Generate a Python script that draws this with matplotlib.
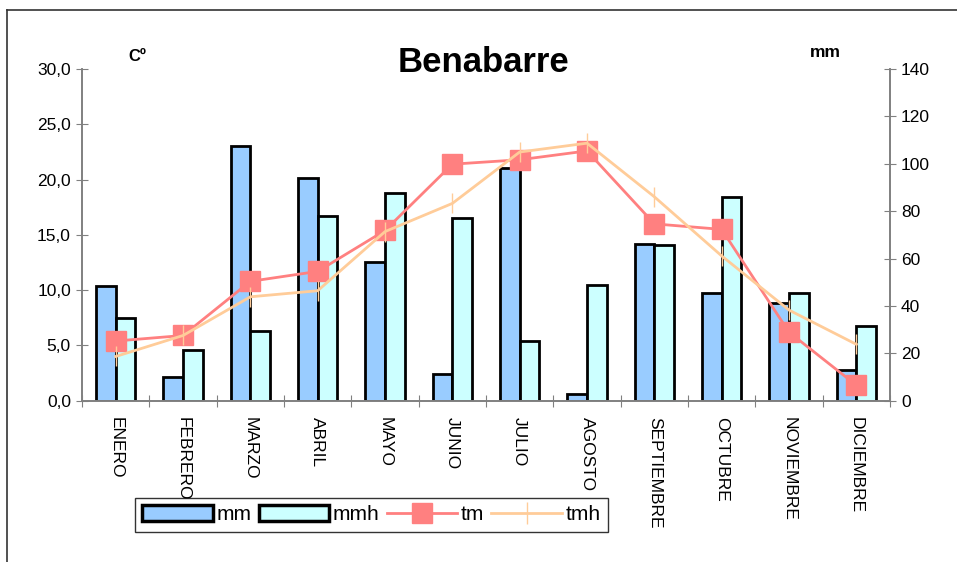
import matplotlib
matplotlib.use("Agg")
import matplotlib.pyplot as plt
import numpy as np
from matplotlib.lines import Line2D
from matplotlib.patches import Patch

plt.rcParams['font.family'] = ['Liberation Sans', 'DejaVu Sans']

meses = ['ENERO', 'FEBRERO', 'MARZO', 'ABRIL', 'MAYO', 'JUNIO', 'JULIO',
         'AGOSTO', 'SEPTIEMBRE', 'OCTUBRE', 'NOVIEMBRE', 'DICIEMBRE']
mm = [48.5, 10.1, 107.4, 93.9, 58.7, 11.1, 98.4, 3.0, 66.1, 45.3, 41.1, 12.8]
mmh = [35.0, 21.4, 29.4, 78.0, 87.5, 77.2, 25.2, 49.0, 65.6, 86.1, 45.3, 31.7]
tm = [5.4, 5.9, 10.8, 11.7, 15.4, 21.4, 21.8, 22.6, 16.0, 15.5, 6.2, 1.4]
tmh = [4.0, 5.9, 9.4, 9.95, 15.3, 17.85, 22.5, 23.3, 18.45, 13.1, 8.2, 5.1]
yt_c = [0, 5, 10, 15, 20, 25, 30]
yt_mm = [0, 20, 40, 60, 80, 100, 120, 140]

fig = plt.figure(figsize=(9.57, 5.62), dpi=100)
ax = fig.add_axes([0.0857, 0.287, 0.8443, 0.590])
axr = ax.twinx()
ax.set_zorder(axr.get_zorder() + 1)
ax.patch.set_visible(False)

x = np.arange(len(meses))
w = 0.29
axr.bar(x - w / 2, mm, w, color='#99CCFF', edgecolor='black', linewidth=2, label='mm')
axr.bar(x + w / 2, mmh, w, color='#CCFFFF', edgecolor='black', linewidth=2, label='mmh')

ax.plot(x, tm, color='#FF8080', lw=2, marker='s', ms=14.5, mec='#FF8080', label='tm', zorder=3)
ax.plot(x, tmh, color='#FFCC99', lw=2, marker='|', ms=14, mew=1, label='tmh', zorder=4)

ax.set_xlim(-0.5, 11.5)
ax.set_ylim(0, 30)
axr.set_ylim(0, 140)

ax.set_yticks(yt_c)
ax.set_yticklabels([('%.1f' % v).replace('.', ',') for v in yt_c], fontsize=12.5)
axr.set_yticks(yt_mm)
axr.set_yticklabels([str(v) for v in yt_mm], fontsize=12.5)

ax.set_xticks(np.arange(-0.5, 12, 1))
ax.set_xticklabels([])
ax.set_xticks(x, minor=True)
ax.set_xticklabels(meses, minor=True, rotation=270, fontsize=12.5, va='top', ha='center')
ax.tick_params(axis='x', which='minor', length=0, pad=12)
ax.tick_params(axis='x', which='major', direction='inout', length=8, color='#808080')
ax.tick_params(axis='y', direction='inout', length=8, color='#808080', pad=4)
axr.tick_params(axis='y', direction='inout', length=8, color='#808080', pad=4)

for a in (ax, axr):
    a.spines['top'].set_visible(False)
    for s in ('left', 'right', 'bottom'):
        a.spines[s].set_color('#808080')
        a.spines[s].set_linewidth(1.2)

fig.text(0.505, 0.888, 'Benabarre', fontsize=25, fontweight='bold', ha='center', va='center')
fig.text(0.144, 0.900, 'Cº', fontsize=12, fontweight='bold', ha='center', va='center')
fig.text(0.862, 0.906, 'mm', fontsize=12.5, fontweight='bold', ha='center', va='center')

handles = [Patch(facecolor='#99CCFF', edgecolor='black', linewidth=2.5),
           Patch(facecolor='#CCFFFF', edgecolor='black', linewidth=2.5),
           Line2D([], [], color='#FF8080', lw=2, marker='s', ms=14),
           Line2D([], [], color='#FFCC99', lw=2, marker='|', ms=16, mew=1)]
leg = fig.legend(handles, ['mm', 'mmh', 'tm', 'tmh'], loc='center', bbox_to_anchor=(0.388, 0.084),
                 ncol=4, fontsize=15, frameon=True, fancybox=False, handlelength=3.4,
                 handleheight=0.8, columnspacing=0.35, handletextpad=0.15, borderpad=0.35)
leg.get_frame().set_edgecolor('black')
leg.get_frame().set_linewidth(1)
leg.set_zorder(10)

# marco exterior
fig.add_artist(Line2D([7 / 957, 7 / 957], [0, 1 - 10 / 562], transform=fig.transFigure, color='#333333', lw=1.2))
fig.add_artist(Line2D([7 / 957, 1], [1 - 10 / 562, 1 - 10 / 562], transform=fig.transFigure, color='#333333', lw=1.2))

fig.savefig('out.png', dpi=100)
